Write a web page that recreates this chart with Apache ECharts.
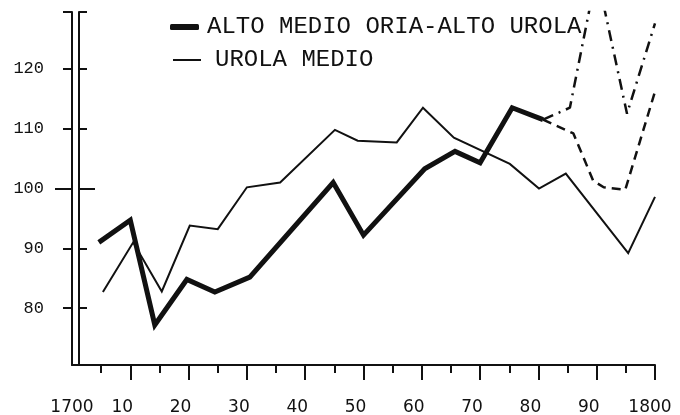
<!DOCTYPE html>
<html>
<head>
<meta charset="utf-8">
<script src="https://cdn.jsdelivr.net/npm/echarts@6/dist/echarts.min.js"></script>
<style>
html,body{margin:0;padding:0;background:#fff;}
#chart{width:680px;height:415px;}
</style>
</head>
<body>
<div id="chart"></div>
<script>
// ---- data ----
var seriesNames = ['ALTO MEDIO ORIA-ALTO UROLA', 'UROLA MEDIO'];

var altoYears  = [1704.6, 1710, 1714.2, 1719.7, 1724.5, 1730.5, 1744.8, 1750, 1760.5, 1765.7, 1770, 1775.5, 1780.8];
var altoValues = [91.0, 94.7, 77.2, 84.8, 82.7, 85.2, 101.0, 92.2, 103.3, 106.2, 104.3, 113.5, 111.5];

var urolaYears  = [1705.3, 1710.5, 1715.4, 1720.2, 1725, 1730, 1735.7, 1745.1, 1749, 1755.7, 1760.2, 1765.5, 1775.1, 1780.1, 1784.7, 1795.4, 1800];
var urolaValues = [82.7, 91.0, 82.8, 93.8, 93.2, 100.2, 101.0, 109.8, 108.0, 107.7, 113.5, 108.5, 104.1, 100.0, 102.5, 89.2, 98.6];

var dashedYears  = [1780.8, 1786, 1789.4, 1791.2, 1794.9, 1800];
var dashedValues = [111.5, 109.2, 101.3, 100.2, 99.8, 116.2];

var dashDotYears  = [1780.8, 1785.4, 1790, 1795.2, 1800];
var dashDotValues = [111.5, 113.5, 136.0, 112.5, 127.6];

var xLabelYears = [1700, 1710, 1720, 1730, 1740, 1750, 1760, 1770, 1780, 1790, 1800];
var xMinorTicks = [1705, 1715, 1725, 1735, 1745, 1755, 1765, 1775, 1785, 1795];
var xMajorTicks = [1710, 1720, 1730, 1740, 1750, 1760, 1770, 1780, 1790, 1800];
var yLabelValues = [80, 90, 100, 110, 120];
var yTickValues = [80, 90, 110, 120, 129.5];
var yLongTick = [100];

function pairs(xs, ys) { return xs.map(function (x, i) { return [x, ys[i]]; }); }

var INK = '#111';
var Y_MIN = 70.5, Y_MAX = 129.5;

function yAxisBase(extra) {
  var a = {
    type: 'value', position: 'left', min: Y_MIN, max: Y_MAX,
    splitLine: { show: false },
    axisLine: { show: true, lineStyle: { color: INK, width: 2 } },
    axisTick: { show: false },
    axisLabel: { show: false }
  };
  for (var k in extra) a[k] = extra[k];
  return a;
}

var legendText = { fontFamily: 'Liberation Mono', fontSize: 24, color: INK, lineHeight: 24, padding: [0, 0, 0, 3] };

var chart = echarts.init(document.getElementById('chart'), null, { renderer: 'canvas' });
chart.setOption({
  animation: false,
  backgroundColor: '#fff',
  grid: { left: 72, right: 25, top: 12, bottom: 50, containLabel: false, outerBoundsMode: 'none' },
  legend: [
    {
      data: [seriesNames[0]], icon: 'roundRect',
      left: 165, top: 10, itemWidth: 29, itemHeight: 6,
      textStyle: legendText, selectedMode: false
    },
    {
      data: [seriesNames[1]], icon: 'rect',
      left: 168, top: 43, itemWidth: 28, itemHeight: 2,
      textStyle: { fontFamily: 'Liberation Mono', fontSize: 24, color: INK, lineHeight: 24, padding: [0, 0, 0, 9] },
      selectedMode: false
    }
  ],
  xAxis: [
    {
      type: 'value', position: 'bottom', min: 1700, max: 1800,
      splitLine: { show: false },
      axisLine: { show: true, onZero: false, lineStyle: { color: INK, width: 2 } },
      axisTick: { show: true, customValues: xMinorTicks, length: 8, lineStyle: { color: INK, width: 2 } },
      axisLabel: { show: false }
    },
    {
      type: 'value', position: 'bottom', min: 1700, max: 1800,
      splitLine: { show: false },
      axisLine: { show: false, onZero: false },
      axisTick: { show: true, customValues: xMajorTicks, length: 15, lineStyle: { color: INK, width: 2 } },
      axisLabel: {
        show: true, customValues: xLabelYears, margin: 34,
        fontFamily: 'DejaVu Sans', fontSize: 17, color: INK,
        formatter: function (v) {
          if (v === 1700) return '{n|1700}';
          if (v === 1800) return '{e|1800}';
          return '{s|' + (v - 1700) + '}';
        },
        rich: {
          n: { fontFamily: 'DejaVu Sans', fontSize: 17, color: INK },
          e: { fontFamily: 'DejaVu Sans', fontSize: 17, color: INK, padding: [0, 10, 0, 0] },
          s: { fontFamily: 'DejaVu Sans', fontSize: 17, color: INK, padding: [0, 16, 0, 0] }
        }
      }
    }
  ],
  yAxis: [
    yAxisBase({
      axisTick: { show: true, customValues: yTickValues, length: 9, inside: false, lineStyle: { color: INK, width: 2 } },
      axisLabel: { show: true, customValues: yLabelValues, margin: 28, fontFamily: 'Liberation Mono', fontSize: 17, color: INK }
    }),
    yAxisBase({
      offset: -7,
      axisTick: { show: true, customValues: yTickValues, length: 8, inside: true, lineStyle: { color: INK, width: 2 } }
    }),
    yAxisBase({
      axisLine: { show: false },
      axisTick: { show: true, customValues: yLongTick, length: 17, inside: false, lineStyle: { color: INK, width: 2 } }
    }),
    yAxisBase({
      offset: -7, axisLine: { show: false },
      axisTick: { show: true, customValues: yLongTick, length: 16, inside: true, lineStyle: { color: INK, width: 2 } }
    })
  ],
  series: [
    {
      name: seriesNames[0], type: 'line', xAxisIndex: 0, yAxisIndex: 0,
      data: pairs(altoYears, altoValues), symbol: 'none',
      lineStyle: { color: INK, width: 5, join: 'miter', cap: 'butt' },
      itemStyle: { color: INK }, z: 4
    },
    {
      name: seriesNames[1], type: 'line', xAxisIndex: 0, yAxisIndex: 0,
      data: pairs(urolaYears, urolaValues), symbol: 'none',
      lineStyle: { color: INK, width: 2, join: 'miter' },
      itemStyle: { color: INK }, z: 3
    },
    {
      name: 'dashed', type: 'line', xAxisIndex: 0, yAxisIndex: 0,
      data: pairs(dashedYears, dashedValues), symbol: 'none',
      lineStyle: { color: INK, width: 2.5, type: [9, 6] }, z: 3
    },
    {
      name: 'dashdot', type: 'line', xAxisIndex: 0, yAxisIndex: 0,
      data: pairs(dashDotYears, dashDotValues), symbol: 'none',
      lineStyle: { color: INK, width: 2.5, type: [11, 6, 2, 6] }, z: 3
    }
  ]
});
</script>
</body>
</html>
